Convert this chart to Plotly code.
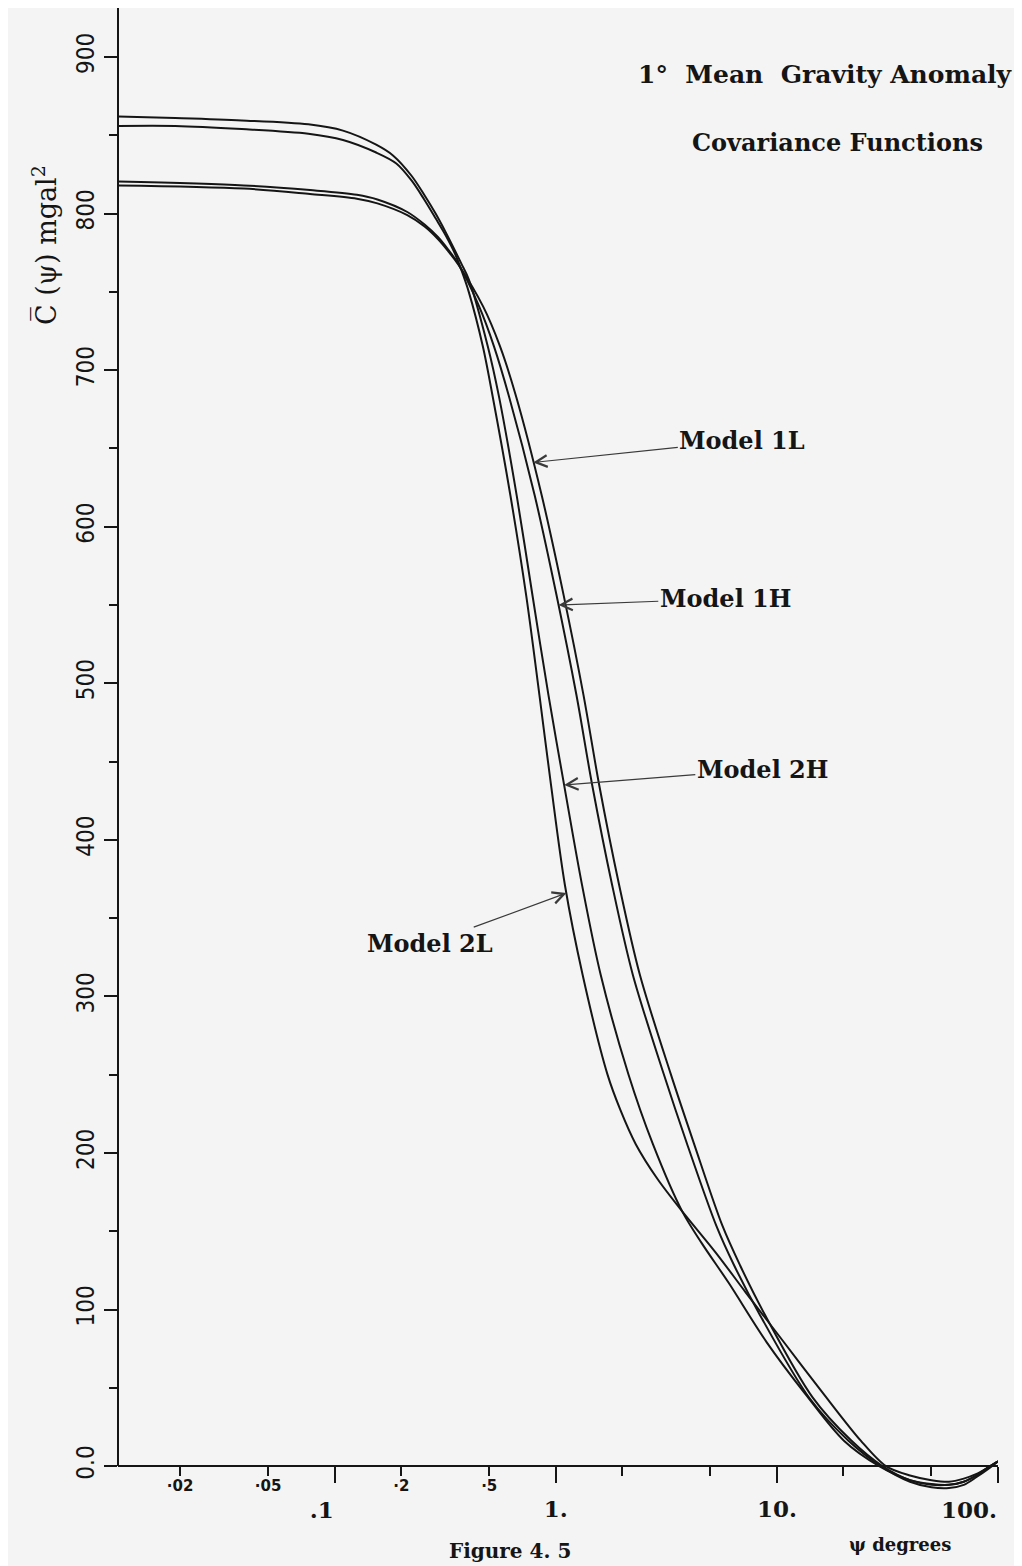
import math
import plotly.graph_objects as go

# ---------------- data ----------------
psi_2H = [0.0105, 0.019, 0.038, 0.076, 0.109, 0.154, 0.184, 0.223, 0.254, 0.286,
          0.318, 0.351, 0.374, 0.404, 0.493, 0.553, 0.666, 0.785, 0.927, 1.091,
          1.314, 1.596, 2.13, 2.747, 3.73, 4.57, 6.04, 8.98, 13.49, 20.1,
          29.0, 40.0, 50.0, 60.0, 70.0, 80.0, 90.0, 100.0]
val_2H = [862, 861, 859.5, 857, 853, 844, 837, 824, 812, 800,
          788, 776, 768, 758, 715, 683.4, 619.7, 555.9, 492.2, 434.9,
          371.2, 313.8, 250.3, 205.8, 162.7, 142.4, 117.2, 79.2, 45.8, 16.2,
          0, -9, -12, -12, -10, -6, -1, 3]

psi_2L = [0.0105, 0.019, 0.038, 0.076, 0.109, 0.154, 0.19, 0.223, 0.254, 0.286,
          0.318, 0.351, 0.374, 0.404, 0.468, 0.518, 0.624, 0.735, 0.844, 0.952,
          1.10, 1.323, 1.714, 1.955, 2.30, 2.88, 3.73, 5.30, 7.22, 10.72,
          15.9, 23.9, 31.1, 40.0, 50.0, 60.0, 70.0, 80.0, 90.0, 100.0]
val_2L = [856, 856, 854, 851, 847, 839, 832, 821, 809, 797,
          786, 774, 764, 750, 715.1, 683.3, 619.6, 555.9, 492.1, 434.7,
          371, 313.7, 250, 227.8, 205.6, 183.5, 162.7, 136.2, 111, 79.4,
          47.9, 16.4, 0, -6, -9, -10, -8, -5, -1, 3]

psi_1H = [0.0105, 0.0388, 0.0773, 0.126, 0.156, 0.213, 0.255, 0.293, 0.326, 0.3624,
          0.45, 0.5253, 0.6135, 0.803, 1.008, 1.24, 1.46, 1.796, 2.227, 3.072,
          3.915, 5.325, 6.41, 8.39, 14.06, 21.07, 29.5, 40.0, 50.0, 60.0,
          70.0, 80.0, 90.0, 100.0]
val_1H = [820.5, 818, 815, 812, 809, 801, 793, 785, 777, 767.9,
          740.7, 715.2, 683.5, 619.9, 556.2, 492.5, 435.2, 371.5, 314.2, 250.7,
          206.2, 153.4, 128.1, 96.4, 43.3, 16.2, 0, -10, -13.5, -14,
          -12, -7, -2, 3]

psi_1L = [0.0105, 0.0388, 0.0773, 0.126, 0.156, 0.213, 0.255, 0.293, 0.326, 0.362,
          0.469, 0.559, 0.660, 0.864, 1.085, 1.334, 1.570, 1.931, 2.395, 3.304,
          4.21, 5.67, 6.82, 8.84, 14.5, 21.7, 30.0, 40.0, 50.0, 60.0,
          70.0, 80.0, 90.0, 100.0]
val_1L = [818, 816, 812.5, 809.5, 806.5, 799, 791.7, 783.7, 776, 767.5,
          740.7, 715.3, 683.6, 619.9, 556.3, 492.6, 435.3, 371.6, 314.3, 250.8,
          206.3, 153.5, 128.1, 96.5, 43.9, 16.3, 0, -9, -11.5, -12,
          -10, -6, -1, 3]

# axis ticks
x_center_vals = [1, 10]               # decade labels centred on their tick
x_center_text = ["1.", "10."]
x_left_vals = [0.1, 100]              # decade labels set to the left of their tick
x_left_text = [".1", "100."]
x_small_vals = [0.02, 0.05, 0.2, 0.5]
x_small_text = ["\u00b702", "\u00b705", "\u00b72", "\u00b75"]
x_minor_vals = [0.02, 0.05, 0.2, 0.5, 2, 5, 20, 50]
y_major_vals = [0, 100, 200, 300, 400, 500, 600, 700, 800, 900]
y_major_text = ["0.0", "100", "200", "300", "400", "500", "600", "700", "800", "900"]
y_minor_vals = [50, 150, 250, 350, 450, 550, 650, 750, 850]

# model label annotations: (label, arrow tip psi, tip value, text log10 psi, text value)
labels = [
    ("Model 1L", 0.790, 641, 0.8435, 655),
    ("Model 1H", 1.029, 550, 0.7666, 554),
    ("Model 2H", 1.091, 435, 0.934, 445),
    ("Model 2L", 1.118, 366, -0.568, 334),
]

# ---------------- figure ----------------
X_RANGE = [-1.98, 2.0]
Y_RANGE = [-40.2, 931.3]
BG = "#f4f4f4"
INK = "#151515"
LINE = dict(color=INK, width=2, shape="spline", smoothing=0.9)
DECADE_FONT = dict(family="DejaVu Serif", size=23, color=INK, weight="bold")

fig = go.Figure()
for name, xs, ys in [("Model 2H", psi_2H, val_2H), ("Model 2L", psi_2L, val_2L),
                     ("Model 1H", psi_1H, val_1H), ("Model 1L", psi_1L, val_1L)]:
    fig.add_trace(go.Scatter(x=xs, y=ys, mode="lines", name=name, showlegend=False,
                             line=LINE))
# helper traces so that the overlaid tick-label x axes are drawn
for ax_name in ("x2", "x3"):
    fig.add_trace(go.Scatter(x=[], y=[], xaxis=ax_name, yaxis="y", showlegend=False,
                             hoverinfo="skip", mode="lines"))

x_axis_pos = (0 - Y_RANGE[0]) / (Y_RANGE[1] - Y_RANGE[0])

annotations = []
for text, tpsi, tval, lx, ly in labels:
    annotations.append(dict(
        x=math.log10(tpsi), y=tval, xref="x", yref="y",
        ax=lx, ay=ly, axref="x", ayref="y",
        text=text, showarrow=True, arrowhead=5, arrowsize=1.9, arrowwidth=1.2,
        arrowcolor="#3a3a3a", standoff=0,
        font=dict(family="DejaVu Serif", size=24, color=INK, weight="bold")))

annotations += [
    dict(text="1\u00b0  Mean  Gravity Anomaly", xref="paper", yref="paper",
         x=1.0193, y=0.9560, xanchor="right", yanchor="middle", showarrow=False,
         font=dict(family="DejaVu Serif", size=25, color=INK, weight="bold")),
    dict(text="Covariance Functions", xref="paper", yref="paper",
         x=0.9852, y=0.9113, xanchor="right", yanchor="middle", showarrow=False,
         font=dict(family="DejaVu Serif", size=24, color=INK, weight="bold")),
    dict(text="C\u0305 (\u03c8) mgal<sup>2</sup>", xref="paper", yref="paper",
         x=-0.083, y=0.8442, xanchor="center", yanchor="middle", textangle=-90,
         showarrow=False, font=dict(family="DejaVu Serif", size=27, color=INK)),
    dict(text="\u03c8 degrees", xref="paper", yref="paper",
         x=0.8886, y=-0.0105, xanchor="center", yanchor="middle", showarrow=False,
         font=dict(family="DejaVu Serif", size=18, color=INK, weight="bold")),
    dict(text="Figure 4. 5", xref="paper", yref="paper",
         x=0.4455, y=-0.0145, xanchor="center", yanchor="middle", showarrow=False,
         font=dict(family="DejaVu Serif", size=20, color=INK, weight="bold")),
]

common_x = dict(type="log", range=X_RANGE, anchor="free", position=x_axis_pos,
                showgrid=False, zeroline=False, automargin=False)

fig.update_layout(
    width=1014, height=1558,
    margin=dict(l=110, r=24, t=0, b=37, autoexpand=False),
    paper_bgcolor=BG, plot_bgcolor=BG,
    showlegend=False,
    xaxis=dict(**common_x,
               showline=True, linecolor=INK, linewidth=2,
               ticks="outside", ticklen=16, tickwidth=2, tickcolor=INK,
               tickmode="array", tickvals=x_center_vals, ticktext=x_center_text,
               tickfont=DECADE_FONT, ticklabelstandoff=6,
               minor=dict(tickmode="array", tickvals=x_minor_vals, ticks="outside",
                          ticklen=9, tickwidth=2, tickcolor=INK, showgrid=False)),
    xaxis2=dict(**common_x, overlaying="x", side="bottom", showline=False,
                ticks="", tickmode="array", tickvals=x_small_vals, ticktext=x_small_text,
                tickfont=dict(family="DejaVu Sans", size=15, color=INK, weight="bold"),
                ticklabelstandoff=9),
    xaxis3=dict(**common_x, overlaying="x", side="bottom", showline=False,
                ticks="outside", ticklen=16, tickwidth=2, tickcolor=INK,
                tickmode="array", tickvals=x_left_vals, ticktext=x_left_text,
                tickfont=DECADE_FONT, ticklabelstandoff=23,
                ticklabelposition="outside left", ticklabeloverflow="allow"),
    yaxis=dict(range=Y_RANGE, showline=False,
               ticks="outside", ticklen=13, tickwidth=2, tickcolor=INK,
               tickmode="array", tickvals=y_major_vals, ticktext=y_major_text,
               tickangle=-90,
               tickfont=dict(family="Liberation Sans Narrow, DejaVu Sans Condensed, Liberation Sans",
                             size=24, color=INK),
               minor=dict(tickmode="array", tickvals=y_minor_vals, ticks="outside",
                          ticklen=8, tickwidth=2, tickcolor=INK, showgrid=False),
               showgrid=False, zeroline=False, automargin=False),
    shapes=[dict(type="line", xref="x domain", x0=0, x1=0, yref="y",
                 y0=0, y1=Y_RANGE[1], line=dict(color=INK, width=2))],
    annotations=annotations,
)

fig.write_html("out.html")
